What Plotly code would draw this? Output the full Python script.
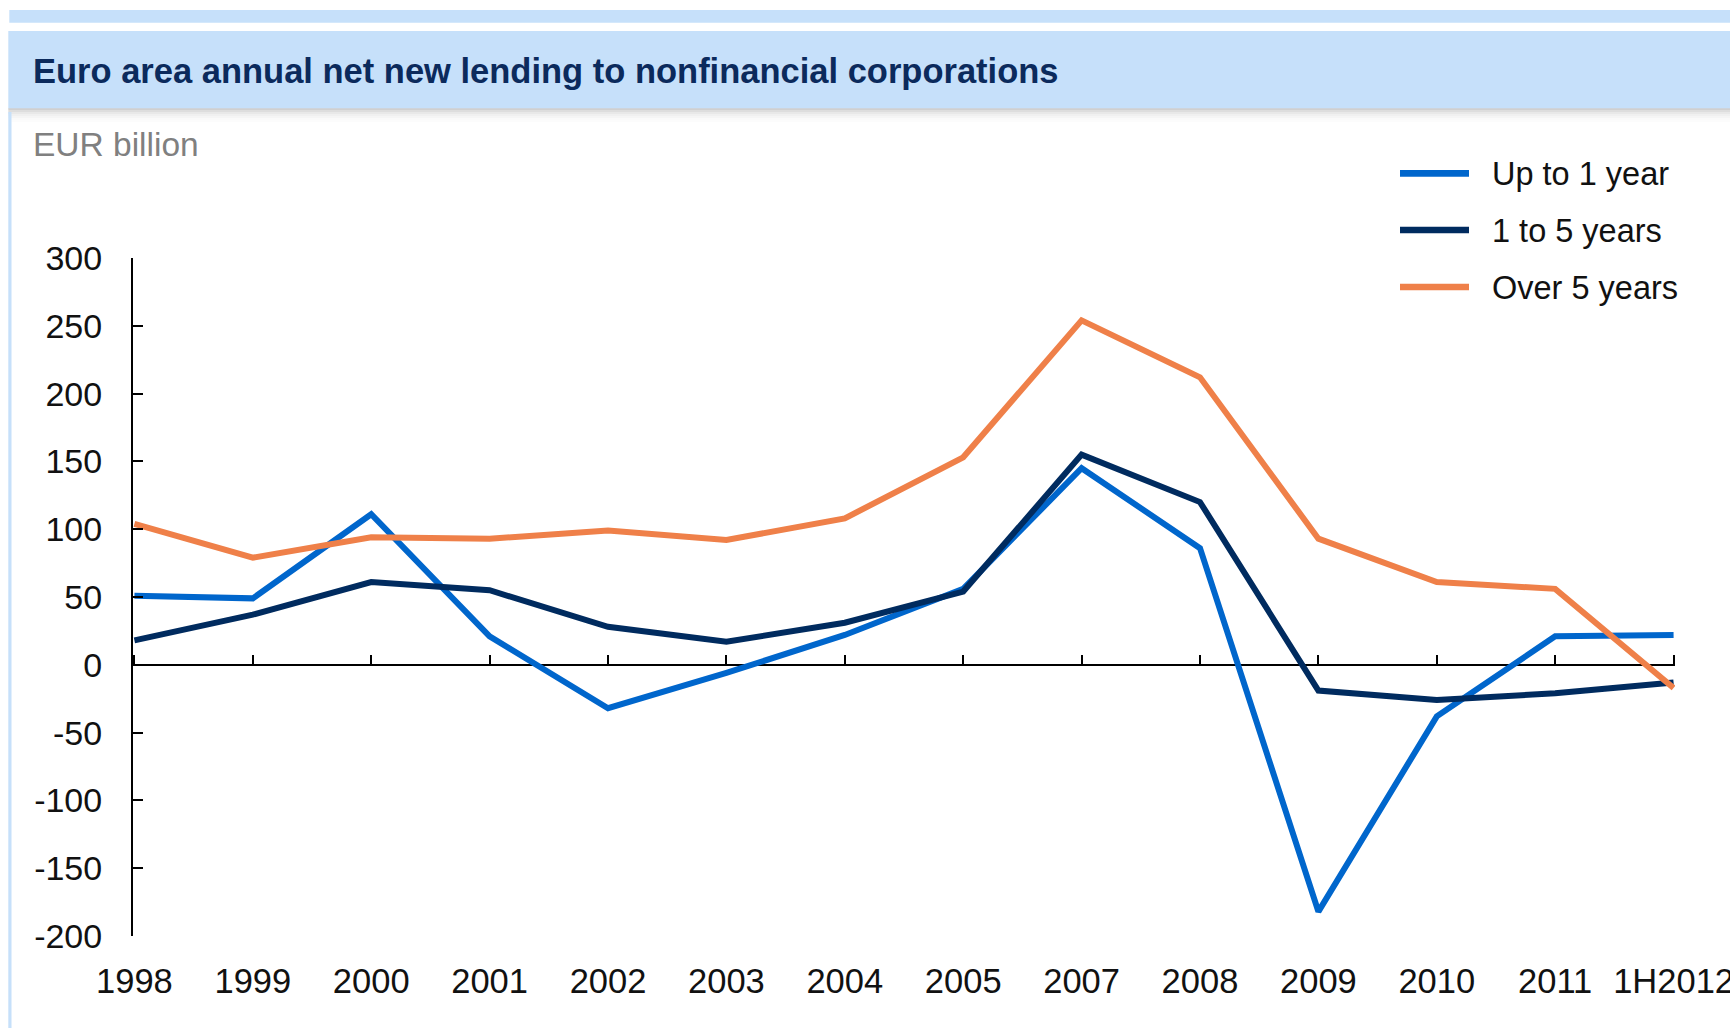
import plotly.graph_objects as go

# ---------------- data ----------------
categories = ["1998", "1999", "2000", "2001", "2002", "2003", "2004", "2005",
              "2007", "2008", "2009", "2010", "2011", "1H2012"]
up_to_1_year = [51, 49, 111, 21, -32, -6, 22, 56, 145, 86, -182, -38, 21, 22]
one_to_5_years = [18, 37, 61, 55, 28, 17, 31, 54, 155, 120, -19, -26, -21, -13]
over_5_years = [104, 79, 94, 93, 99, 92, 108, 153, 254, 212, 93, 61, 56, -17]
series_names = ["Up to 1 year", "1 to 5 years", "Over 5 years"]
y_ticks = [300, 250, 200, 150, 100, 50, 0, -50, -100, -150, -200]

title_text = "Euro area annual net new lending to nonfinancial corporations"
unit_text = "EUR billion"

# ---------------- styling ----------------
W, H = 1730, 1028
# plot area in pixel coordinates
PL, PR, PT, PB = 133, 1675, 258, 936
ML, MR, MT, MB = PL, W - PR, PT, H - PB
PW, PH = PR - PL, PB - PT
colors = ["#0066CC", "#002B5F", "#EF8049"]
FONT = "Liberation Sans, Arial, Helvetica, sans-serif"
BAND = "#C6E0FA"


def px(x):  # pixel x -> paper fraction
    return (x - PL) / PW


def py(y):  # pixel y -> paper fraction
    return 1 - (y - PT) / PH


xi = list(range(len(categories)))
n = len(categories)

fig = go.Figure()
for name, vals, col in zip(series_names, [up_to_1_year, one_to_5_years, over_5_years], colors):
    fig.add_trace(go.Scatter(x=xi, y=vals, mode="lines", name=name,
                             line=dict(color=col, width=6),
                             showlegend=False, hoverinfo="x+y+name"))
# helper trace for the tick axis on the zero line
fig.add_trace(go.Scatter(x=xi, y=[None] * n, xaxis="x2", yaxis="y",
                         showlegend=False, hoverinfo="skip"))

xr = [-0.012, n - 1 + 0.012]
fig.update_layout(
    width=W, height=H, autosize=False,
    margin=dict(l=ML, r=MR, t=MT, b=MB, pad=0, autoexpand=False),
    paper_bgcolor="white", plot_bgcolor="white",
    font=dict(family=FONT, color="#111111", size=34),
    xaxis=dict(range=xr, tickmode="array", tickvals=xi, ticktext=categories,
               showline=False, ticks="", showgrid=False, zeroline=False,
               tickfont=dict(size=34.5, color="#111111"), ticklabelstandoff=21,
               ticklabeloverflow="allow", automargin=False, fixedrange=True),
    xaxis2=dict(range=xr, overlaying="x", anchor="free", position=0.4,
                tickmode="array", tickvals=xi, ticks="inside", ticklen=10,
                tickwidth=1.5, tickcolor="#000", showticklabels=False,
                showline=False, showgrid=False, zeroline=False, automargin=False),
    yaxis=dict(range=[-200, 300], tickmode="array", tickvals=y_ticks,
               ticktext=[str(v) for v in y_ticks],
               showline=True, linecolor="#000", linewidth=2,
               ticks="inside", ticklen=10, tickwidth=1.5, tickcolor="#000",
               showgrid=False, zeroline=True, zerolinecolor="#000",
               zerolinewidth=1.5, tickfont=dict(size=34, color="#111111"),
               ticklabelstandoff=22, automargin=False, fixedrange=True),
    showlegend=False,
)

shapes = []
# top thin band
shapes.append(dict(type="rect", xref="paper", yref="paper",
                   x0=px(9.3), x1=px(W + 5), y0=py(10), y1=py(22.7),
                   fillcolor=BAND, line=dict(width=0), layer="below"))
# shadow under title bar
for i, a in enumerate([0.35, 0.25, 0.17, 0.11, 0.07, 0.04, 0.02]):
    shapes.append(dict(type="rect", xref="paper", yref="paper",
                       x0=px(8.3), x1=px(W + 5), y0=py(108 + 2 * i), y1=py(110 + 2 * i),
                       fillcolor=f"rgba(120,120,120,{a})", line=dict(width=0), layer="below"))
# title bar
shapes.append(dict(type="rect", xref="paper", yref="paper",
                   x0=px(8.3), x1=px(W + 5), y0=py(31), y1=py(108.3),
                   fillcolor=BAND, line=dict(width=0), layer="below"))
# left border line
shapes.append(dict(type="rect", xref="paper", yref="paper",
                   x0=px(8.3), x1=px(11.5), y0=py(112), y1=py(H + 5),
                   fillcolor=BAND, line=dict(width=0), layer="below"))

annotations = [
    dict(text=f"<b>{title_text}</b>", xref="paper", yref="paper",
         x=px(31), y=py(71), xanchor="left", yanchor="middle", showarrow=False,
         font=dict(family=FONT, size=34.5, color="#0B2A5C")),
    dict(text=unit_text, xref="paper", yref="paper",
         x=px(31), y=py(145), xanchor="left", yanchor="middle", showarrow=False,
         font=dict(family=FONT, size=33.5, color="#808080")),
]

# manual legend
leg_y = [173.3, 230, 287]
for name, col, yy in zip(series_names, colors, leg_y):
    shapes.append(dict(type="line", xref="paper", yref="paper",
                       x0=px(1400), x1=px(1469), y0=py(yy), y1=py(yy),
                       line=dict(color=col, width=6.7)))
    annotations.append(dict(text=name, xref="paper", yref="paper",
                            x=px(1490), y=py(yy + 1), xanchor="left", yanchor="middle",
                            showarrow=False,
                            font=dict(family=FONT, size=32.5, color="#111111")))

fig.update_layout(shapes=shapes, annotations=annotations)
fig.write_html("out.html", config={"displayModeBar": False, "responsive": False},
               post_script="document.body.style.margin='0px';"
                           "document.body.style.overflow='hidden';")
